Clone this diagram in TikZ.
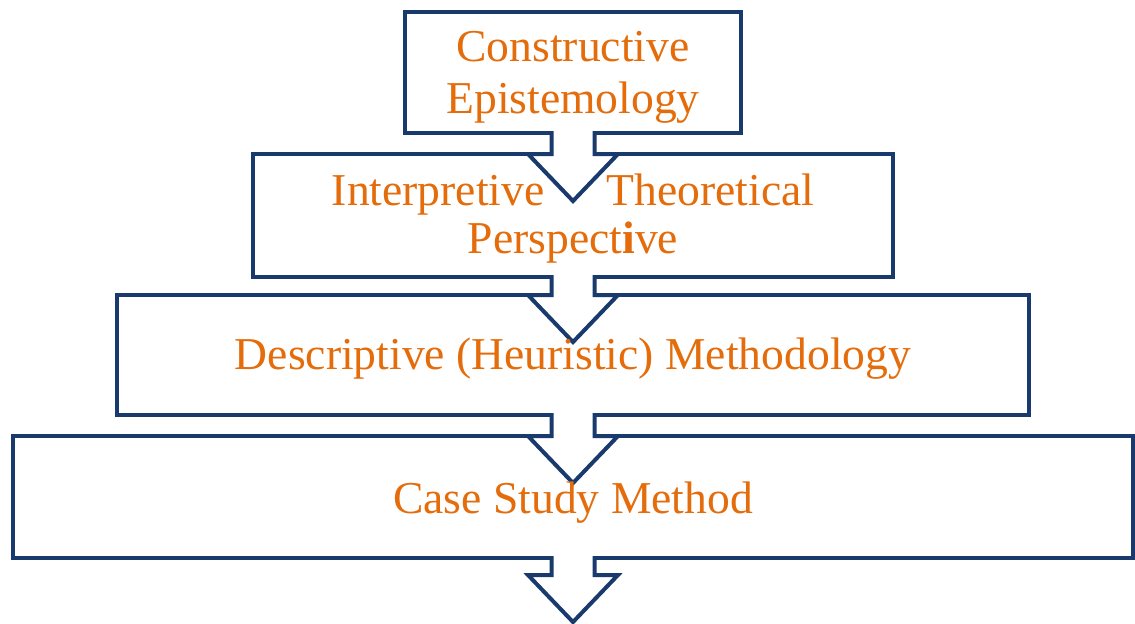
\documentclass[tikz,border=0pt]{standalone}
\usepackage{fontspec}
\setmainfont{Liberation Serif}
\usetikzlibrary{calc}

\definecolor{boxblue}{RGB}{24,58,108}
\definecolor{textorange}{RGB}{228,108,10}

\newcommand{\shaftw}{21.5}
\newcommand{\headw}{45}
\newcommand{\headh}{47}
% block arrow from the bottom of box #1 to the head at #2
\newcommand{\flowarrow}[2]{%
  \fill[white] ($(#1.south)+(-\shaftw,-3)$) -- ($(#2)+(-\shaftw,0)$) -- ($(#2)+(-\headw,0)$)
    -- ($(#2)+(0,\headh)$) -- ($(#2)+(\headw,0)$) -- ($(#2)+(\shaftw,0)$)
    -- ($(#1.south)+(\shaftw,-3)$) -- cycle;
  \draw[flowline] ($(#1.south)+(-\shaftw,-2)$) -- ($(#2)+(-\shaftw,0)$) -- ($(#2)+(-\headw,0)$)
    -- ($(#2)+(0,\headh)$) -- ($(#2)+(\headw,0)$) -- ($(#2)+(\shaftw,0)$)
    -- ($(#1.south)+(\shaftw,-2)$);
}

\begin{document}
\begin{tikzpicture}[x=0.5pt,y=-0.5pt,
    flowline/.style={draw=boxblue, line width=2pt, line join=miter},
    flowbox/.style={flowline, fill=white, rectangle, outer sep=0pt, inner sep=0pt},
    flowtext/.style={text=textorange, align=center, inner sep=0pt,
      font=\fontsize{22.8}{24}\selectfont}]
                    \useasboundingbox (0,0) rectangle (1135,623);
                    \node[flowbox, minimum width=168pt, minimum height=60.5pt] (b1) at (573,72.5) {};
                    \node[flowbox, minimum width=320pt, minimum height=61.5pt] (b2) at (573,215.5) {};
                    \node[flowbox, minimum width=456pt, minimum height=60pt] (b3) at (573,355) {};
                    \node[flowbox, minimum width=560pt, minimum height=61pt] (b4) at (573,497) {};
                    \coordinate (end) at (573,575);
                    \flowarrow{b1}{b2.north}
                    \flowarrow{b2}{b3.north}
                    \flowarrow{b3}{b4.north}
                    \flowarrow{b4}{end}
                    \node[flowtext, font=\fontsize{22.8}{26}\selectfont] (t1) at (573,77.3) {Constructive\\Epistemology};
                    \node[flowtext] (t2) at (573,218.6) {Interpretive\hspace*{31pt}Theoretical\\Perspect{\bfseries i}ve};
                    \node[flowtext] (t3) at (573,358.5) {Descriptive (Heuristic) Methodology};
                    \node[flowtext] (t4) at (573,502.5) {Case Study Method};
                \end{tikzpicture}
\end{document}
